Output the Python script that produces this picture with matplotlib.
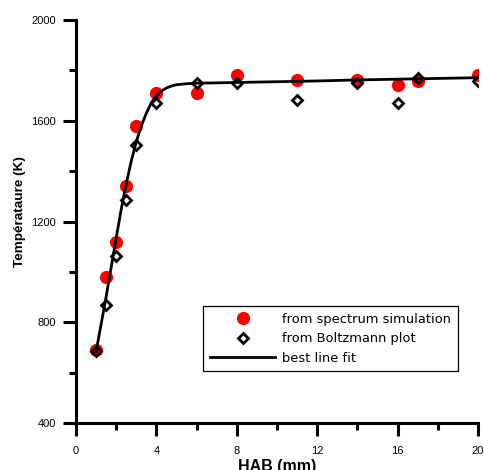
import matplotlib
matplotlib.use("Agg")
import matplotlib.pyplot as plt
from matplotlib.ticker import MultipleLocator

# Data
hab_sim = [1, 1.5, 2, 2.5, 3, 4, 6, 8, 11, 14, 16, 17, 20]
temp_sim = [690, 980, 1120, 1340, 1580, 1710, 1710, 1782, 1762, 1762, 1741, 1758, 1783]

hab_boltz = [1, 1.5, 2, 2.5, 3, 4, 6, 8, 11, 14, 16, 17, 20]
temp_boltz = [685, 870, 1065, 1285, 1505, 1670, 1750, 1751, 1683, 1749, 1669, 1771, 1758]

hab_fit = [1, 1.25, 1.5, 1.75, 2, 2.25, 2.5, 2.75, 3, 3.25, 3.5, 3.75, 4, 4.25,
           4.5, 4.75, 5, 5.5, 6, 8, 10, 12, 14, 16, 18, 20]
temp_fit = [684, 792, 902, 1018, 1135, 1248, 1350, 1440, 1517, 1580, 1630, 1672, 1700, 1718,
            1730, 1738, 1743, 1747, 1749, 1752, 1755, 1758, 1762, 1765, 1768, 1771]

xticks = [0, 4, 8, 12, 16, 20]
yticks = [400, 800, 1200, 1600, 2000]

fig = plt.figure(figsize=(4.84, 4.70), dpi=100)
ax = fig.add_axes([76/484, 47/470, 402/484, 403/470])

ax.plot(hab_sim, temp_sim, 'o', color='#ff0000', markersize=9.5, markeredgewidth=0,
        label='from spectrum simulation', zorder=2)
ax.plot(hab_fit, temp_fit, '-', color='black', linewidth=2.0, label='best line fit', zorder=3)
ax.plot(hab_boltz, temp_boltz, 'D', markerfacecolor='none', markeredgecolor='black',
        markersize=5.5, markeredgewidth=2.0, label='from Boltzmann plot', zorder=4)

ax.set_xlim(0, 20)
ax.set_ylim(400, 2000)
ax.set_xticks(xticks)
ax.set_yticks(yticks)
ax.xaxis.set_minor_locator(MultipleLocator(2))
ax.yaxis.set_minor_locator(MultipleLocator(200))

for s in ['top', 'right']:
    ax.spines[s].set_visible(False)
for s in ['left', 'bottom']:
    ax.spines[s].set_linewidth(2.2)

ax.tick_params(which='major', direction='out', length=9.5, width=2.2, labelsize=8,
               labelfontfamily='Liberation Sans')
ax.tick_params(which='minor', direction='out', length=5, width=2.2)
ax.tick_params(axis='x', which='major', pad=7)
ax.tick_params(axis='y', which='major', pad=5)

ax.set_xlabel('HAB (mm)', fontsize=11.5, fontweight='bold', family='Liberation Sans', labelpad=2)
ax.set_ylabel('Températaure (K)', fontsize=9.7, fontweight='bold', family='Liberation Sans')
ax.yaxis.set_label_coords(-0.125, 0.525)

handles, labels = ax.get_legend_handles_labels()
order = [0, 2, 1]
leg = ax.legend([handles[i] for i in order], [labels[i] for i in order],
                loc='upper right', bbox_to_anchor=(0.950, 0.290),
                fontsize=9.4, frameon=True, fancybox=False, framealpha=1,
                edgecolor='black', handlelength=5.0, handletextpad=0.55,
                labelspacing=0.5, borderpad=0.5, borderaxespad=0)
leg.get_frame().set_linewidth(0.9)

fig.savefig('out.png', dpi=100)
